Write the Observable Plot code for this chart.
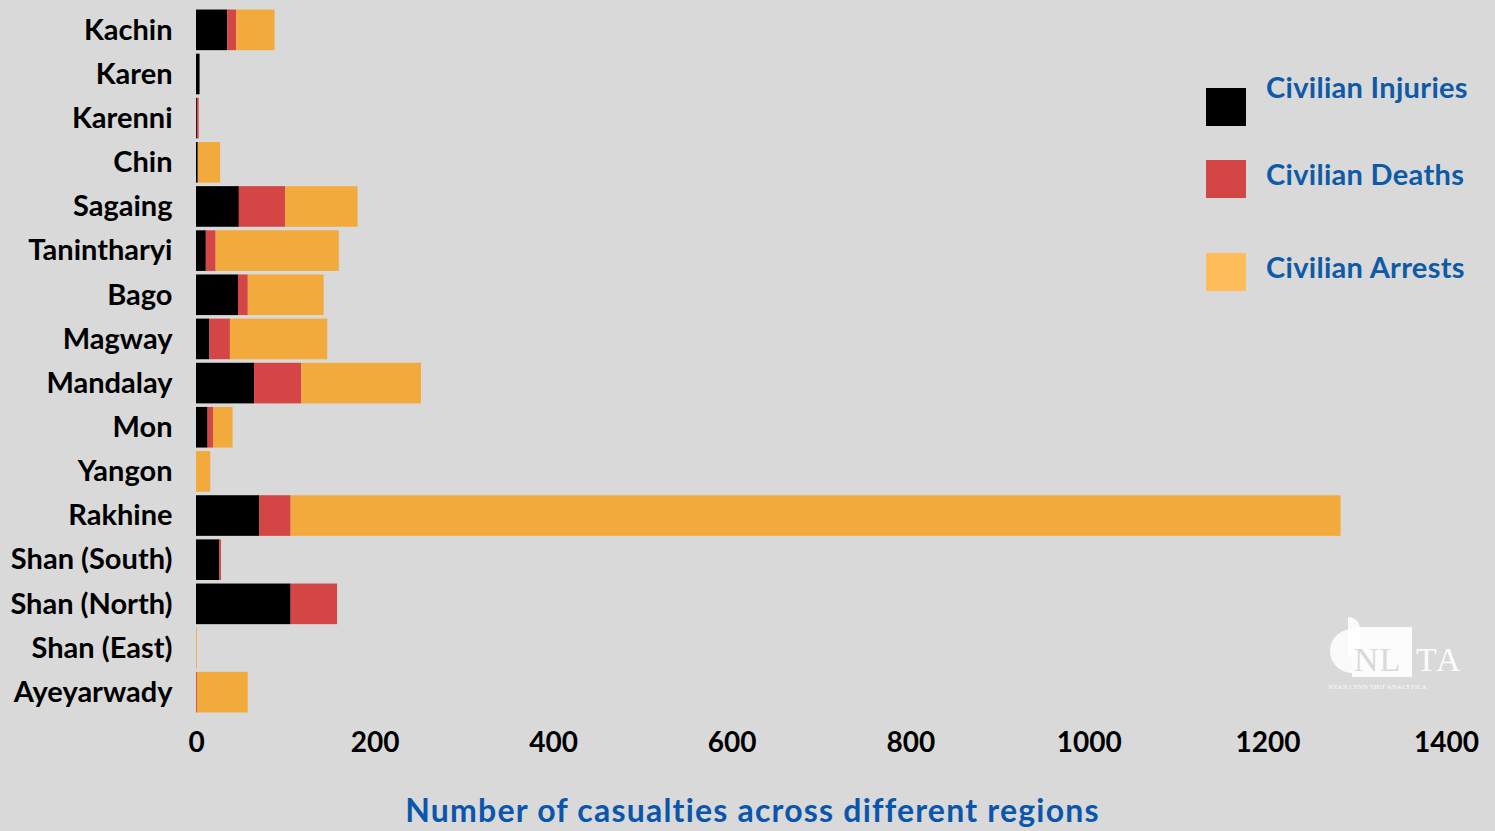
<!DOCTYPE html>
<html>
<head>
<meta charset="utf-8">
<script src="https://cdn.jsdelivr.net/npm/d3@7"></script>
<script src="https://cdn.jsdelivr.net/npm/@observablehq/plot@0.6"></script>
<style>
  html, body { margin: 0; padding: 0; background: #d9d9d9; }
  #wrap { position: relative; width: 1495px; height: 831px; background: #d9d9d9; overflow: hidden; font-family: Lato, "Open Sans", sans-serif; }
  #chart { position: absolute; left: 0; top: 0; }
  .title { position: absolute; left: 0; width: 1495px; top: 790px; text-align: center; color: #0b56ad; font: 700 32px Lato, sans-serif; letter-spacing: 1.2px; padding-left: 10px; box-sizing: border-box; }
  .leg { position: absolute; left: 1206px; }
  .leg .sw { position: absolute; left: 0; width: 40px; height: 38px; }
  .leg .lab { position: absolute; left: 60px; color: #0e5aa7; font: 700 29px Lato, sans-serif; letter-spacing: 0.3px; white-space: nowrap; }
  .logo { position: absolute; left: 1328px; top: 615px; width: 145px; height: 80px; color: rgba(255,255,255,0.9); }
</style>
</head>
<body>
<div id="wrap">
  <div id="chart"></div>
  <div class="title">Number of casualties across different regions</div>
  <div id="legend"></div>
  <div class="logo">
    <div style="position:absolute;left:2px;top:14px;width:22px;height:44px;border-radius:22px 0 0 22px;background:rgba(255,255,255,0.85);"></div>
    <div style="position:absolute;left:20px;top:2px;width:12px;height:40px;border-radius:0 20px 20px 0;background:rgba(255,255,255,0.85);"></div>
    <div style="position:absolute;left:24px;top:12px;width:60px;height:50px;background:rgba(255,255,255,0.9);"></div>
    <div style="position:absolute;left:26px;top:26px;font:34px 'Liberation Serif',serif;color:#d9d9d9;letter-spacing:1px;">NL</div>
    <div style="position:absolute;left:88px;top:26px;font:34px 'Liberation Serif',serif;color:rgba(255,255,255,0.95);letter-spacing:2px;">TA</div>
    <div style="position:absolute;left:0px;top:68px;font:7px 'Liberation Serif',serif;color:rgba(255,255,255,0.9);white-space:nowrap;">NYAN LYNN THIT ANALYTICA</div>
  </div>
</div>
<script>
const regions = ["Kachin","Karen","Karenni","Chin","Sagaing","Tanintharyi","Bago","Magway","Mandalay","Mon","Yangon","Rakhine","Shan (South)","Shan (North)","Shan (East)","Ayeyarwady"];
const injuries = [35, 4, 1, 2, 48, 11, 47, 15, 65, 13, 0, 71, 26, 106, 0, 0];
const deaths   = [10, 0, 2, 0, 52, 11, 11, 23, 53, 6, 0, 35, 2, 52, 0, 1];
const arrests  = [43, 0, 0, 25, 81, 138, 85, 109, 134, 22, 16, 1176, 0, 0, 1, 57];
const series = ["Civilian Injuries","Civilian Deaths","Civilian Arrests"];
const barColors = ["#000000","#d44545","#f2aa3c"];
const legendColors = ["#000000","#d44545","#ffbd59"];
const xTicks = [0,200,400,600,800,1000,1200,1400];

const rows = [];
const vals = [injuries, deaths, arrests];
regions.forEach((r, i) => {
  series.forEach((s, k) => rows.push({region: r, type: s, value: vals[k][i]}));
});

const chart = Plot.plot({
  width: 1495,
  height: 770,
  marginTop: 6,
  marginBottom: 54,
  marginLeft: 196,
  marginRight: 49,
  style: {background: "transparent", color: "#000", fontFamily: "Lato, sans-serif"},
  x: {domain: [0, 1400], ticks: xTicks, tickSize: 0, tickPadding: 16, label: null},
  y: {domain: regions, tickSize: 0, tickPadding: 24, label: null, padding: 0.08, round: false},
  color: {domain: series, range: barColors},
  marks: [
    Plot.barX(rows, Plot.stackX({x: "value", y: "region", fill: "type", order: series})),
    Plot.axisX({ticks: xTicks, tickFormat: d => String(d), tickSize: 0, tickPadding: 16, fontSize: 28, fontWeight: 700, label: null}),
    Plot.axisY({tickSize: 0, tickPadding: 24, fontSize: 29, fontWeight: 700, label: null})
  ]
});
document.getElementById("chart").appendChild(chart);

const leg = document.getElementById("legend");
const swTops = [88, 160, 253];
const labTops = [69, 156, 249];
series.forEach((s, k) => {
  const d = document.createElement("div");
  d.className = "leg";
  d.innerHTML = `<div class="sw" style="top:${swTops[k]}px;background:${legendColors[k]}"></div><div class="lab" style="top:${labTops[k]}px">${s}</div>`;
  leg.appendChild(d);
});
</script>
</body>
</html>
